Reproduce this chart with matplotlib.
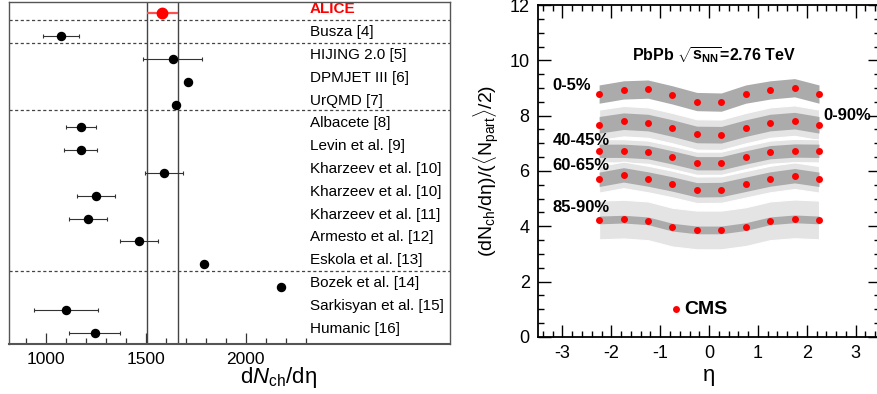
import numpy as np
import matplotlib
matplotlib.use("Agg")
import matplotlib.pyplot as plt
from matplotlib.ticker import MultipleLocator, FixedLocator

plt.rcParams['font.family'] = ['Liberation Sans', 'DejaVu Sans']
plt.rcParams['mathtext.fontset'] = 'custom'
plt.rcParams['mathtext.rm'] = 'Liberation Sans'
plt.rcParams['mathtext.it'] = 'Liberation Sans:italic'
plt.rcParams['mathtext.bf'] = 'Liberation Sans:bold'
plt.rcParams['axes.unicode_minus'] = False

# ---- left panel data: dNch/deta predictions ----
modelos = ["ALICE", "Busza [4]", "HIJING 2.0 [5]", "DPMJET III [6]", "UrQMD [7]",
           "Albacete [8]", "Levin et al. [9]", "Kharzeev et al. [10]",
           "Kharzeev et al. [10]", "Kharzeev et al. [11]", "Armesto et al. [12]",
           "Eskola et al. [13]", "Bozek et al. [14]", "Sarkisyan et al. [15]",
           "Humanic [16]"]
valores = [1584, 1077, 1635, 1710, 1650, 1177, 1175, 1592, 1253, 1213, 1465,
           1792, 2175, 1102, 1245]
errores = [76, 90, 148, 0, 0, 77, 83, 96, 95, 95, 95, 0, 0, 158, 127]
alice_banda = [1508, 1660]
separadores = [0.28, 1.28, 4.24, 11.28]

# ---- right panel data: CMS dN/deta/(Npart/2) ----
eta = [-2.25, -1.75, -1.25, -0.75, -0.25, 0.25, 0.75, 1.25, 1.75, 2.25]
c_0_5 = [8.78, 8.93, 8.96, 8.75, 8.51, 8.49, 8.78, 8.93, 9.01, 8.78]
c_0_90 = [7.67, 7.80, 7.75, 7.55, 7.32, 7.31, 7.55, 7.75, 7.82, 7.67]
c_40_45 = [6.73, 6.73, 6.68, 6.49, 6.28, 6.28, 6.49, 6.68, 6.74, 6.73]
c_60_65 = [5.70, 5.86, 5.71, 5.53, 5.32, 5.33, 5.52, 5.71, 5.83, 5.70]
c_85_90 = [4.23, 4.26, 4.20, 3.97, 3.87, 3.87, 3.99, 4.20, 4.27, 4.23]
curvas = [c_0_5, c_0_90, c_40_45, c_60_65, c_85_90]
sis_osc = [0.33, 0.30, 0.24, 0.26, 0.14]   # banda oscura (semi-ancho)
sis_cla = [0.0, 0.55, 0.42, 0.48, 0.70]    # banda clara (semi-ancho)

fig = plt.figure(figsize=(8.77, 3.94), dpi=100)

# ================= panel izquierdo =================
ax1 = fig.add_axes([0.0103, 0.127, 0.503, 0.868])
y = np.arange(len(modelos))
for i in range(len(modelos)):
    if i == 0:
        ax1.errorbar(valores[i], y[i], xerr=errores[i], fmt='o', color='red',
                     ecolor='#ff5050', elinewidth=1.6, markersize=7.5, capsize=0, zorder=5)
    elif errores[i] > 0:
        ax1.errorbar(valores[i], y[i], xerr=errores[i], fmt='o', color='black',
                     ecolor='#333333', elinewidth=0.8, markersize=5.8, capsize=1.6,
                     capthick=0.8, zorder=4)
    else:
        ax1.plot(valores[i], y[i], 'o', color='black', markersize=5.8, zorder=4)
    ax1.text(2322, y[i] - 0.17, modelos[i], ha='left', va='center', fontsize=11,
             color='red' if i == 0 else 'black',
             fontweight='bold' if i == 0 else 'normal')

for s in separadores:
    ax1.axhline(s, color='#444444', lw=0.9, ls=(0, (2.5, 2)))
for xv in alice_banda:
    ax1.axvline(xv, color='#444444', lw=1.0)

ax1.set_xlim(817, 3022)
ax1.set_ylim(14.5, -0.5)
ax1.set_yticks([])
ax1.xaxis.set_major_locator(FixedLocator([1000, 1500, 2000]))
ax1.xaxis.set_minor_locator(FixedLocator([900, 1100, 1200, 1300, 1400, 1600, 1700,
                                          1800, 1900, 2100, 2200, 2300]))
ax1.tick_params(axis='x', which='major', direction='in', length=8, width=0.9,
                labelsize=12.5, pad=6, colors='#333333', labelcolor='black')
ax1.tick_params(axis='x', which='minor', direction='in', length=4, width=0.9,
                colors='#333333')
for sp in ax1.spines.values():
    sp.set_color('#555555')
    sp.set_linewidth(1.0)
ax1.spines['bottom'].set_linewidth(1.5)
fig.text(278 / 877, 1 - 378 / 394, r'd$N_{\rm ch}$/dη', ha='center', va='center',
         fontsize=16)

# ================= panel derecho =================
ax2 = fig.add_axes([0.6135, 0.1447, 0.39, 0.8426])
for k in range(len(curvas)):
    c = np.array(curvas[k])
    if sis_cla[k] > 0:
        ax2.fill_between(eta, c - sis_cla[k], c + sis_cla[k], color='#e4e4e4',
                         edgecolor='white', lw=0.8, zorder=1)
for k in range(len(curvas)):
    c = np.array(curvas[k])
    ax2.fill_between(eta, c - sis_osc[k], c + sis_osc[k], color='#ababab', lw=0, zorder=2)
    ax2.plot(eta, c, 'o', color='red', markersize=5, markeredgewidth=0, zorder=3)

ax2.set_xlim(-3.5, 3.5)
ax2.set_ylim(0, 12)
ax2.xaxis.set_major_locator(MultipleLocator(1))
ax2.xaxis.set_minor_locator(MultipleLocator(0.2))
ax2.yaxis.set_major_locator(MultipleLocator(2))
ax2.yaxis.set_minor_locator(MultipleLocator(0.5))
ax2.tick_params(which='both', direction='in', top=True, right=True, width=1.0)
ax2.tick_params(which='major', length=9, labelsize=13, pad=6)
ax2.tick_params(which='minor', length=4.5)
for sp in ax2.spines.values():
    sp.set_linewidth(1.3)
ax2.set_xlabel('η', fontsize=16, labelpad=2)
ax2.set_ylabel(r'$(\mathrm{dN_{ch}/d}$η$)/(\langle \mathrm{N_{part}}\rangle/2)$',
               fontsize=14, labelpad=6)

ax2.text(-1.58, 10.2, r'PbPb $\sqrt{\mathbf{s}_{\mathbf{NN}}}$=2.76 TeV', fontsize=11.5,
         fontweight='bold', ha='left', va='center')
ax2.text(-3.2, 9.1, '0-5%', fontsize=12, fontweight='bold', ha='left', va='center')
ax2.text(2.33, 8.0, '0-90%', fontsize=12, fontweight='bold', ha='left', va='center')
ax2.text(-3.2, 7.1, '40-45%', fontsize=12, fontweight='bold', ha='left', va='center')
ax2.text(-3.2, 6.2, '60-65%', fontsize=12, fontweight='bold', ha='left', va='center')
ax2.text(-3.2, 4.67, '85-90%', fontsize=12, fontweight='bold', ha='left', va='center')
ax2.plot([-0.67], [1.0], 'o', color='red', markersize=5, markeredgewidth=0)
ax2.text(-0.5, 1.0, 'CMS', fontsize=14, fontweight='bold', ha='left', va='center')

fig.savefig('out.png', dpi=100)
